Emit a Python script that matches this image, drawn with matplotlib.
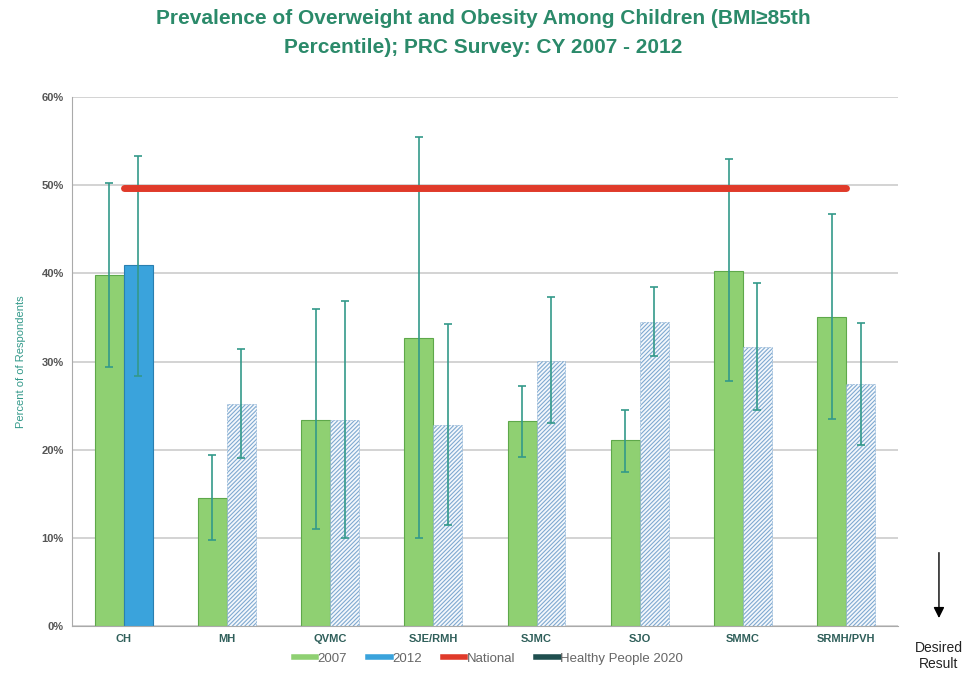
import numpy as np
import matplotlib.pyplot as plt
from matplotlib.lines import Line2D
from matplotlib.patches import FancyArrowPatch

plt.rcParams['font.family'] = ['Liberation Sans', 'DejaVu Sans']

# Data
sites = ['CH', 'MH', 'QVMC', 'SJE/RMH', 'SJMC', 'SJO', 'SMMC', 'SRMH/PVH']
val_2007 = [39.8, 14.5, 23.4, 32.7, 23.2, 21.1, 40.3, 35.0]
low_2007 = [29.4, 9.7, 11.0, 10.0, 19.2, 17.5, 27.8, 23.5]
high_2007 = [50.2, 19.4, 36.0, 55.5, 27.2, 24.5, 53.0, 46.7]
val_2012 = [40.9, 25.2, 23.4, 22.8, 30.1, 34.5, 31.6, 27.5]
low_2012 = [28.3, 19.0, 10.0, 11.4, 23.0, 30.6, 24.5, 20.5]
high_2012 = [53.3, 31.4, 36.9, 34.2, 37.3, 38.4, 38.9, 34.4]
national = 49.7

teal = '#33998a'
title_col = '#2b8a6a'

x = np.arange(len(sites))
w = 0.28

fig = plt.figure(figsize=(9.67, 6.96), dpi=100)
ax = fig.add_axes([0.0745, 0.1006, 0.854, 0.76])

# 2007 bars
ax.bar(x - w / 2, val_2007, w, color='#8fd072', edgecolor='#5ea84a', linewidth=0.8, zorder=2)

# 2012 bars: CH solid, others hatched
ax.bar(x[0] + w / 2, val_2012[0], w, color='#3aa3dc', edgecolor='#2a7fb0', linewidth=0.8, zorder=2)
plt.rcParams['hatch.color'] = '#7fa9d0'
plt.rcParams['hatch.linewidth'] = 0.8
ax.bar(x[1:] + w / 2, val_2012[1:], w, color='#f4f8fc', edgecolor='#7fa9d0', hatch='////////',
       linewidth=0.4, linestyle='--', zorder=2)

# error bars
e07 = [np.array(val_2007) - np.array(low_2007), np.array(high_2007) - np.array(val_2007)]
e12 = [np.array(val_2012) - np.array(low_2012), np.array(high_2012) - np.array(val_2012)]
ax.errorbar(x - w / 2, val_2007, yerr=e07, fmt='none', ecolor=teal, elinewidth=1.2,
            capsize=3, capthick=1.2, zorder=3)
ax.errorbar(x + w / 2, val_2012, yerr=e12, fmt='none', ecolor=teal, elinewidth=1.2,
            capsize=3, capthick=1.2, zorder=3)

# national line
ax.plot([x[0], x[-1]], [national, national], color='#e03a2a', linewidth=5,
        solid_capstyle='round', zorder=4)

ax.set_xlim(-0.5, len(sites) - 0.5)
ax.set_ylim(0, 60)
ax.set_yticks(range(0, 61, 10))
ax.set_yticklabels([f'{v}%' for v in range(0, 61, 10)], fontsize=8, fontweight='bold', color='#555555')
ax.set_xticks(x)
ax.set_xticklabels(sites, fontsize=8, fontweight='bold', color='#2f5f5a')
ax.tick_params(axis='both', length=0, pad=6)
ax.yaxis.grid(True, color='#cccccc', linewidth=1.2, zorder=0)
ax.set_axisbelow(True)
for s in ['top', 'right']:
    ax.spines[s].set_visible(False)
ax.spines['left'].set_color('#aaaaaa')
ax.spines['bottom'].set_color('#aaaaaa')
ax.set_ylabel('Percent of of Respondents', fontsize=8, color=teal, labelpad=11)

fig.text(0.5, 0.974, 'Prevalence of Overweight and Obesity Among Children (BMI\u226585th',
         ha='center', va='center', fontsize=15, fontweight='bold', color=title_col)
fig.text(0.5, 0.932, 'Percentile); PRC Survey: CY 2007 - 2012',
         ha='center', va='center', fontsize=15, fontweight='bold', color=title_col)

handles = [
    Line2D([0], [0], color='#8fd072', lw=4),
    Line2D([0], [0], color='#3aa3dc', lw=4),
    Line2D([0], [0], color='#e03a2a', lw=4),
    Line2D([0], [0], color='#1f4f4f', lw=4),
]
fig.legend(handles, ['2007', '2012', 'National', 'Healthy People 2020'], loc='center',
           bbox_to_anchor=(0.505, 0.054), ncol=4, frameon=False, fontsize=9.5,
           handlelength=1.7, handletextpad=0.1, columnspacing=1.6, labelcolor='#666666')

# desired result arrow
fig.patches.append(FancyArrowPatch(
    (0.971, 0.21), (0.971, 0.108), transform=fig.transFigure,
    arrowstyle='-|>', mutation_scale=16, color='black', lw=1))
fig.text(0.971, 0.058, 'Desired\nResult', ha='center', va='center', fontsize=10, color='#222222')

fig.savefig('out.png', dpi=100)
